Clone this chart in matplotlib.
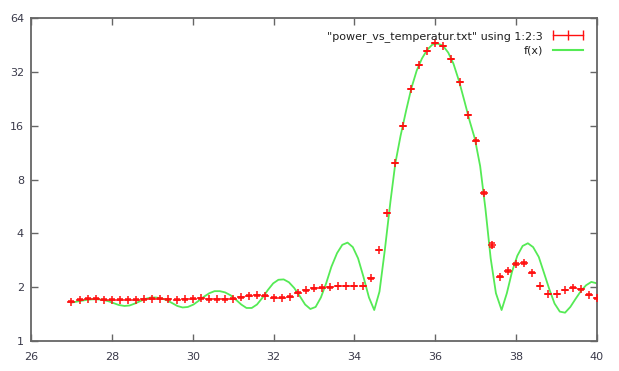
import matplotlib
matplotlib.use("Agg")
import matplotlib.pyplot as plt
from matplotlib.lines import Line2D
from matplotlib.ticker import FixedLocator, FixedFormatter, NullLocator

temp = [27.0, 27.2, 27.4, 27.6, 27.8, 28.0, 28.2, 28.4, 28.6, 28.8,
        29.0, 29.2, 29.4, 29.6, 29.8, 30.0, 30.2, 30.4, 30.6, 30.8,
        31.0, 31.2, 31.4, 31.6, 31.8, 32.0, 32.2, 32.4, 32.6, 32.8,
        33.0, 33.2, 33.4, 33.6, 33.8, 34.0, 34.2, 34.4, 34.6, 34.8,
        35.0, 35.2, 35.4, 35.6, 35.8, 36.0, 36.2, 36.4, 36.6, 36.8,
        37.0, 37.2, 37.4, 37.6, 37.8, 38.0, 38.2, 38.4, 38.6, 38.8,
        39.0, 39.2, 39.4, 39.6, 39.8, 40.0]
power = [1.66, 1.70, 1.72, 1.72, 1.70, 1.70, 1.70, 1.70, 1.70, 1.71,
         1.72, 1.72, 1.71, 1.70, 1.71, 1.72, 1.73, 1.71, 1.71, 1.71,
         1.72, 1.76, 1.79, 1.80, 1.79, 1.75, 1.75, 1.77, 1.86, 1.92,
         1.97, 1.99, 2.00, 2.03, 2.03, 2.03, 2.03, 2.24, 3.22, 5.22,
         9.87, 16.0, 25.7, 35.0, 42.1, 46.3, 44.9, 37.7, 28.0, 18.4,
         13.2, 6.71, 3.44, 2.29, 2.46, 2.69, 2.72, 2.41, 2.03, 1.83,
         1.83, 1.93, 1.99, 1.95, 1.81, 1.73]
power_err = [0.01] * 50 + [0.05, 0.1, 0.08, 0.02, 0.02, 0.03, 0.03, 0.02,
                           0.01, 0.01, 0.01, 0.01, 0.01, 0.01, 0.01, 0.01]

# fitted curve f(x)
fit_x = [27.00, 27.13, 27.26, 27.39, 27.52, 27.65, 27.78, 27.91, 28.04, 28.17,
         28.31, 28.44, 28.57, 28.70, 28.83, 28.96, 29.09, 29.23, 29.36, 29.49,
         29.62, 29.75, 29.88, 30.02, 30.15, 30.28, 30.41, 30.54, 30.67, 30.80,
         30.94, 31.07, 31.20, 31.33, 31.46, 31.59, 31.72, 31.86, 31.99, 32.12,
         32.25, 32.38, 32.51, 32.65, 32.78, 32.91, 33.04, 33.17, 33.30, 33.43,
         33.57, 33.70, 33.83, 33.96, 34.09, 34.22, 34.36, 34.49, 34.62, 34.75,
         34.89, 35.01, 35.14, 35.28, 35.41, 35.54, 35.67, 35.80, 35.93, 36.06,
         36.19, 36.32, 36.45, 36.59, 36.72, 36.85, 36.98, 37.11, 37.24, 37.37,
         37.50, 37.64, 37.77, 37.90, 38.03, 38.16, 38.29, 38.42, 38.56, 38.69,
         38.82, 38.95, 39.08, 39.21, 39.34, 39.47, 39.60, 39.73, 39.86, 40.00]
fit_y = [1.64, 1.66, 1.68, 1.70, 1.71, 1.71, 1.70, 1.67, 1.63, 1.59,
         1.57, 1.58, 1.62, 1.67, 1.72, 1.75, 1.75, 1.73, 1.69, 1.63,
         1.57, 1.54, 1.55, 1.60, 1.68, 1.77, 1.85, 1.90, 1.90, 1.87,
         1.80, 1.70, 1.60, 1.53, 1.53, 1.60, 1.74, 1.93, 2.10, 2.20,
         2.21, 2.13, 1.98, 1.78, 1.60, 1.51, 1.55, 1.75, 2.10, 2.60,
         3.10, 3.45, 3.55, 3.35, 2.90, 2.30, 1.75, 1.49, 1.89, 3.20,
         6.00, 9.80, 14.0, 19.5, 26.0, 32.5, 38.0, 42.5, 45.5, 46.0,
         44.8, 41.0, 35.5, 28.3, 22.0, 17.0, 13.5, 9.5, 5.5, 2.9,
         1.85, 1.49, 1.85, 2.45, 3.00, 3.40, 3.52, 3.35, 2.95, 2.40,
         1.95, 1.62, 1.46, 1.44, 1.55, 1.72, 1.90, 2.05, 2.14, 2.10]

xticks = [26, 28, 30, 32, 34, 36, 38, 40]
yticks = [1, 2, 4, 8, 16, 32, 64]

red = "#ff1010"
green = "#55ea55"
axis_col = "#666666"
label_col = "#3a3a4a"

fig = plt.figure(figsize=(6.19, 3.71), dpi=100)
ax = fig.add_axes([31 / 619, 1 - 341 / 371, 566 / 619, 323 / 371])

ax.errorbar(temp, power, yerr=power_err, fmt="+", color=red, ms=6, mew=1.1,
            elinewidth=0.9, capsize=2.5, capthick=0.9, zorder=3)
ax.plot(fit_x, fit_y, color=green, lw=1.3, zorder=2)

ax.set_yscale("log", base=2)
ax.set_xlim(26, 40)
ax.set_ylim(1, 64)
ax.xaxis.set_major_locator(FixedLocator(xticks))
ax.xaxis.set_major_formatter(FixedFormatter([str(t) for t in xticks]))
ax.yaxis.set_major_locator(FixedLocator(yticks))
ax.yaxis.set_major_formatter(FixedFormatter([str(t) for t in yticks]))
ax.yaxis.set_minor_locator(NullLocator())
ax.xaxis.set_minor_locator(NullLocator())

ax.tick_params(direction="in", length=5, width=1.0, color=axis_col,
               top=True, right=True, labelsize=8, labelcolor=label_col)
ax.tick_params(axis="x", pad=8)
ax.tick_params(axis="y", pad=5)
for s in ax.spines.values():
    s.set_color(axis_col)
    s.set_linewidth(1.3)

handles = [
    Line2D([], [], color=red, lw=1.0, marker="|", ms=7, mew=1.0),
    Line2D([], [], color=green, lw=1.5),
]
labels = ['"power_vs_temperatur.txt" using 1:2:3', "f(x)"]
leg = ax.legend(handles, labels, loc="upper right", frameon=False,
                fontsize=8, numpoints=3, markerfirst=False,
                handlelength=3.3, handletextpad=0.6, labelspacing=0.35,
                borderaxespad=0.3, bbox_to_anchor=(0.995, 0.985))
for t in leg.get_texts():
    t.set_color("#202020")
leg._legend_box.align = "right"

fig.savefig("out.png", dpi=100)
